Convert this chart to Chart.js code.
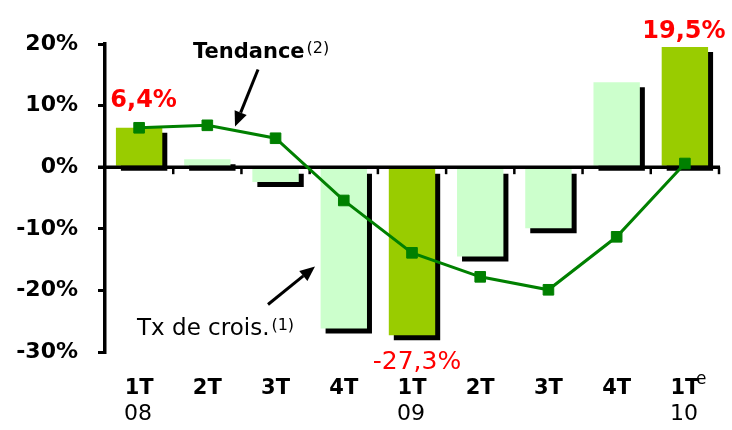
<!DOCTYPE html>
<html><head><meta charset="utf-8">
<script src="https://cdn.jsdelivr.net/npm/chart.js@4/dist/chart.umd.min.js"></script>
<style>html,body{margin:0;padding:0;background:#fff;}canvas{display:block;}</style>
</head><body>
<canvas id="c" width="732" height="430"></canvas>
<script>
// ---- data ----
const quarters = ['1T','2T','3T','4T','1T','2T','3T','4T','1T'];
const years = ['08','','','','09','','','','10'];
const growthRate = [6.4, 1.3, -2.4, -26.2, -27.3, -14.5, -9.9, 13.8, 19.5];
const trend = [6.4, 6.8, 4.7, -5.4, -13.9, -17.8, -19.9, -11.3, 0.6];
const highlighted = [0, 4, 8];
const yTicks = [-30, -20, -10, 0, 10, 20];

// ---- style ----
const DARK = '#99CC00', LIGHT = '#CCFFCC', LINE = '#008000', RED = '#FF0000';
const FONT = '"DejaVu Sans", Verdana, sans-serif';
const labelStyle = {
  0: {dx: 4.5, dy: -21, font: 'bold 24px '},
  4: {dx: 5, dy: 34, font: '25px '},
  8: {dx: -1, dy: -9.5, font: 'bold 24px '}
};
const notes = [
  {text: 'Tendance', sup: '(2)', i: 0.79, v: 17.8, bold: true, size: 21},
  {text: 'Tx de crois.', sup: '(1)', i: -0.03, v: -27.3, bold: false, size: 23}
];
const arrows = [
  {from: [1.743, 15.86], to: [1.406, 6.61]},
  {from: [1.889, -22.29], to: [2.578, -16.12]}
];

function fmt(v) { return v.toFixed(1).replace('.', ',') + '%'; }

const decor = {
  id: 'decor',
  beforeDatasetDraw(chart, args) {
    if (args.index === 0) {
      const c = chart.ctx;
      c.save();
      c.shadowColor = '#000'; c.shadowOffsetX = 5; c.shadowOffsetY = 5; c.shadowBlur = 0;
    }
  },
  afterDatasetDraw(chart, args) {
    if (args.index === 0) {
      const c = chart.ctx;
      c.restore();
      const x = chart.scales.x, y = chart.scales.y, a = chart.chartArea;
      const y0 = y.getPixelForValue(0);
      c.save();
      c.strokeStyle = '#000';
      c.lineWidth = 3.5;
      c.beginPath(); c.moveTo(a.left - 7, y0); c.lineTo(a.right + 1, y0); c.stroke();
      c.lineWidth = 2.5;
      for (let k = 1; k <= quarters.length; k++) {
        const px = x.getPixelForValue(k - 0.5);
        c.beginPath(); c.moveTo(px, y0); c.lineTo(px, y0 + 7); c.stroke();
      }
      c.restore();
    }
  },
  afterDraw(chart) {
    const c = chart.ctx, x = chart.scales.x, y = chart.scales.y;
    c.save();
    // year line
    c.fillStyle = '#000'; c.textAlign = 'center'; c.textBaseline = 'alphabetic';
    c.font = '22px ' + FONT;
    years.forEach((t, i) => { if (t) c.fillText(t, x.getPixelForValue(i) - 1, y.bottom + 68); });
    // superscript e
    c.textAlign = 'left';
    c.font = '17px ' + FONT;
    c.fillText('e', x.getPixelForValue(quarters.length - 1) + 11, y.bottom + 32);
    // value labels
    c.fillStyle = RED; c.textAlign = 'center';
    highlighted.forEach(i => {
      const s = labelStyle[i];
      c.font = s.font + FONT;
      c.fillText(fmt(growthRate[i]), x.getPixelForValue(i) + s.dx, y.getPixelForValue(growthRate[i]) + s.dy);
    });
    // notes
    c.fillStyle = '#000'; c.textAlign = 'left';
    notes.forEach(n => {
      const px = x.getPixelForValue(n.i), py = y.getPixelForValue(n.v);
      c.font = (n.bold ? 'bold ' : '') + n.size + 'px ' + FONT;
      c.fillText(n.text, px, py);
      const w = c.measureText(n.text).width;
      c.font = '16px ' + FONT;
      c.fillText(n.sup, px + w + 2, py - 5);
    });
    // arrows
    c.strokeStyle = '#000'; c.fillStyle = '#000'; c.lineWidth = 3;
    arrows.forEach(ar => {
      const x1 = x.getPixelForValue(ar.from[0]), y1 = y.getPixelForValue(ar.from[1]);
      const x2 = x.getPixelForValue(ar.to[0]), y2 = y.getPixelForValue(ar.to[1]);
      const ang = Math.atan2(y2 - y1, x2 - x1), L = 15, W = 6.5;
      const bx = x2 - L * Math.cos(ang), by = y2 - L * Math.sin(ang);
      c.beginPath(); c.moveTo(x1, y1); c.lineTo(bx, by); c.stroke();
      c.beginPath();
      c.moveTo(x2, y2);
      c.lineTo(bx + W * Math.sin(ang), by - W * Math.cos(ang));
      c.lineTo(bx - W * Math.sin(ang), by + W * Math.cos(ang));
      c.closePath(); c.fill();
    });
    c.restore();
  }
};

new Chart(document.getElementById('c'), {
  data: {
    labels: quarters,
    datasets: [
      {
        type: 'bar', data: growthRate,
        backgroundColor: growthRate.map((_, i) => highlighted.includes(i) ? DARK : LIGHT),
        borderWidth: 0, barPercentage: 0.68, categoryPercentage: 1, order: 2
      },
      {
        type: 'line', data: trend, borderColor: LINE, borderWidth: 3,
        pointStyle: 'rect', pointRadius: 7.5, pointBackgroundColor: LINE,
        pointBorderColor: LINE, pointBorderWidth: 1, tension: 0, order: 1, clip: false
      }
    ]
  },
  options: {
    responsive: false, animation: false, devicePixelRatio: 1,
    layout: {padding: {top: 44, right: 13, left: 0, bottom: 0}},
    plugins: {legend: {display: false}, tooltip: {enabled: false}},
    scales: {
      x: {
        offset: true,
        grid: {display: false, drawTicks: false},
        border: {display: false},
        ticks: {font: {family: FONT, size: 21, weight: 'bold'}, color: '#000', padding: 24, maxRotation: 0, autoSkip: false},
        afterFit(s) { s.height = 78; }
      },
      y: {
        min: -30, max: 20,
        afterBuildTicks(s) { s.ticks = yTicks.map(v => ({value: v})); },
        ticks: {callback: v => v + '%', font: {family: FONT, size: 22, weight: 'bold'}, color: '#000', padding: 20},
        grid: {drawOnChartArea: false, color: '#000', lineWidth: 3, tickLength: 7},
        border: {display: true, color: '#000', width: 3.5},
        afterFit(s) { s.width = 105; }
      }
    }
  },
  plugins: [decor]
});
</script>
</body></html>
